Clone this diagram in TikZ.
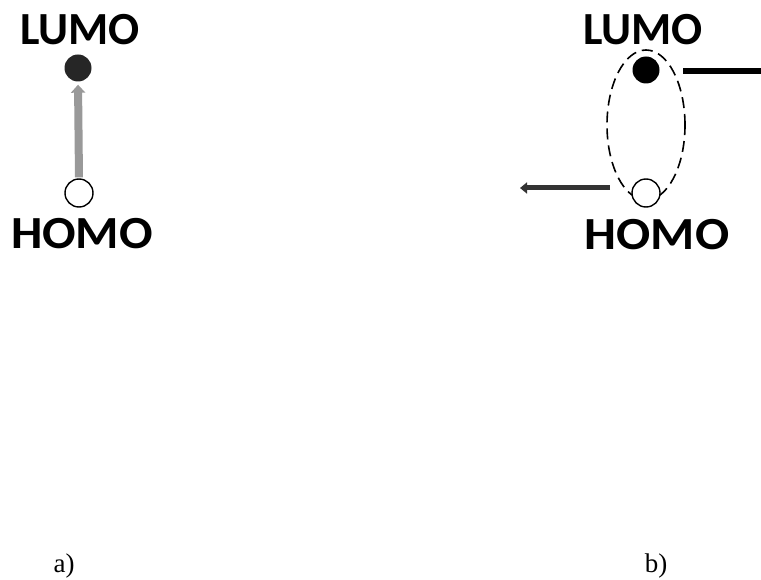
\documentclass[tikz,border=0pt]{standalone}
\usepackage{fontspec}
\setmainfont{Liberation Serif}
\newfontfamily\calib{Carlito}
\usetikzlibrary{arrows.meta,shapes.geometric}
\begin{document}
\begin{tikzpicture}[x=1pt,y=-1pt,
  orb/.style={font=\calib\bfseries\fontsize{46}{46}\selectfont, inner sep=0pt},
  filled/.style={circle, fill=black, minimum size=27pt, inner sep=0pt},
  hollow/.style={circle, draw=black, line width=1.4pt, fill=white, minimum size=28pt, inner sep=0pt},
  lab/.style={font=\fontsize{27}{27}\selectfont, inner sep=0pt}]
\useasboundingbox (0,0) rectangle (761,580);
% a)
\node[orb] (lumoA) at (80,30) {LUMO};
\node[orb, xscale=1.08] (homoA) at (82,234) {HOMO};
\node[filled, fill=black!85] (eA) at (78,68) {};
\node[hollow] (hA) at (79,193) {};
\draw[line width=8pt, gray!80, -{Triangle[length=8pt,width=14pt]}, shorten <=1pt, shorten >=3pt] (hA.north) -- (eA.south);
\node[lab] (la) at (64,566) {a)};
% b)
\node[orb] (lumoB) at (643,30) {LUMO};
\node[orb, xscale=1.1] (homoB) at (657,235) {HOMO};
\node[draw, dashed, dash pattern=on 11pt off 6pt, line width=1.6pt, ellipse, minimum width=78pt, minimum height=150pt, inner sep=0pt] (exc) at (646,125) {};
\node[filled] (eB) at (646,70) {};
\node[hollow] (hB) at (646,193) {};
\coordinate (rEnd) at (761,71);
\coordinate (lEnd) at (520,188);
\coordinate (rStart) at (683,71);
\coordinate (lStart) at (610,188);
\draw[line width=6pt, black] (rStart) -- (rEnd);
\draw[line width=5pt, black!80, -{Triangle[length=7pt,width=11pt]}] (lStart) -- (lEnd);
\node[lab] (lb) at (656,566) {b)};
\end{tikzpicture}
\end{document}
